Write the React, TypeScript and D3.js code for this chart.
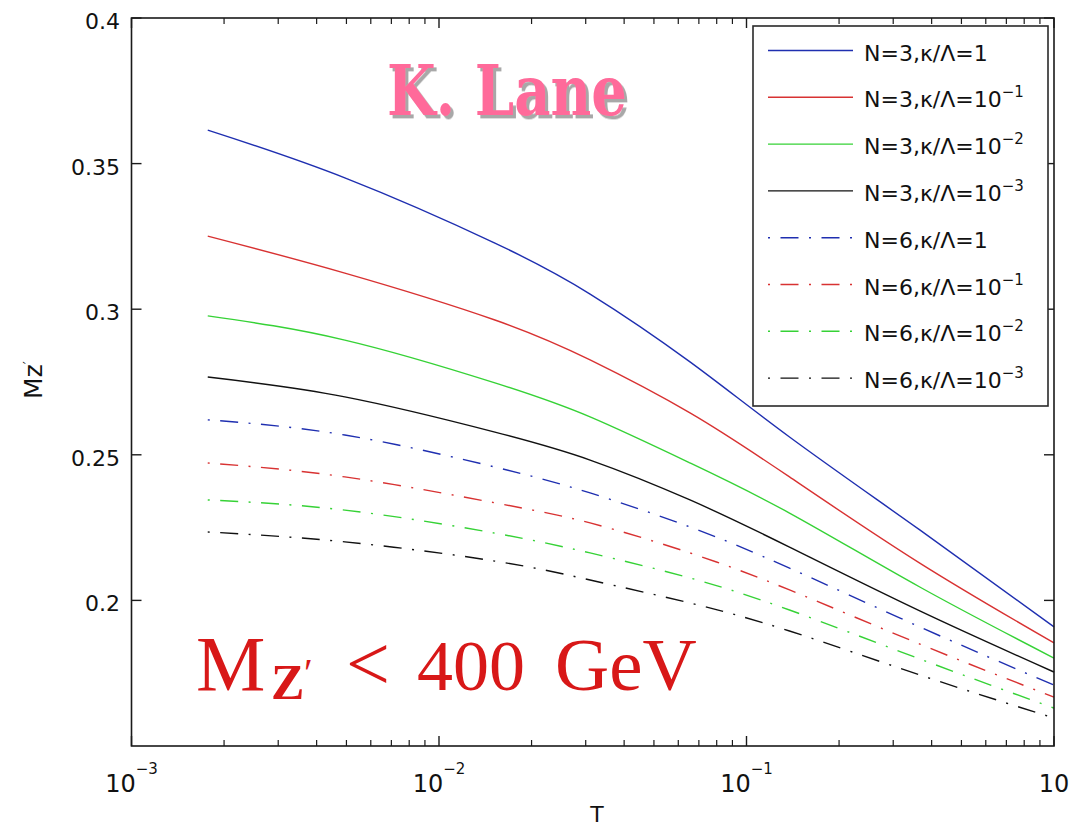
import React from 'react';
import * as d3 from 'd3';

// Technicolor parameter T (log axis) at which the curves are sampled
const T_VALUES = [0.00177, 0.00494, 0.0152, 0.031, 0.0655, 0.138, 0.366, 1];

// Mz' values, N = 3, kappa/Lambda = 1, 1e-1, 1e-2, 1e-3
const N3_K0 = [0.3615, 0.3451, 0.3227, 0.3052, 0.2819, 0.2561, 0.2242, 0.1909];
const N3_K1 = [0.3251, 0.3124, 0.2963, 0.2826, 0.2644, 0.2424, 0.2128, 0.1854];
const N3_K2 = [0.2977, 0.2894, 0.2747, 0.263, 0.2472, 0.23, 0.2046, 0.1802];
const N3_K3 = [0.2767, 0.2699, 0.2578, 0.2482, 0.2345, 0.2183, 0.1964, 0.1754];
// Mz' values, N = 6
const N6_K0 = [0.262, 0.2568, 0.2458, 0.2369, 0.2252, 0.2111, 0.1909, 0.1709];
const N6_K1 = [0.2472, 0.2424, 0.2335, 0.2266, 0.2163, 0.2036, 0.185, 0.1668];
const N6_K2 = [0.2345, 0.231, 0.2231, 0.2163, 0.2077, 0.1967, 0.1799, 0.163];
const N6_K3 = [0.2235, 0.2201, 0.2135, 0.207, 0.1991, 0.1895, 0.1744, 0.1596];

const SERIES_VALUES = [N3_K0, N3_K1, N3_K2, N3_K3, N6_K0, N6_K1, N6_K2, N6_K3];
const SERIES_N = [3, 3, 3, 3, 6, 6, 6, 6];
const SERIES_EXP = ['', '−1', '−2', '−3', '', '−1', '−2', '−3'];
const SERIES_COLORS = ['#1f2fb0', '#d83232', '#36d236', '#111111', '#1f2fb0', '#d83232', '#36d236', '#111111'];
const SERIES_DASHED = [false, false, false, false, true, true, true, true];

const Y_TICKS = [0.2, 0.25, 0.3, 0.35, 0.4];
const Y_TICK_LABELS = ['0.2', '0.25', '0.3', '0.35', '0.4'];
const X_TICKS = [1e-3, 1e-2, 1e-1, 1];
const X_TICK_EXPS = ['−3', '−2', '−1', ''];

const W = 1072;
const H = 828;
const SANS = 'DejaVu Sans, sans-serif';
const DASH_DOT = '2,10.5,18,10.5';

export default function App() {
  const left = 131.5;
  const right = 1054;
  const top = 18;
  const bottom = 746;

  const x = d3.scaleLog().domain([1e-3, 1]).range([left, right]);
  const y = d3.scaleLinear().domain([0.15, 0.4]).range([bottom, top]);

  const line = d3
    .line<[number, number]>()
    .x((d) => x(d[0]))
    .y((d) => y(d[1]))
    .curve(d3.curveNatural);

  const minorTicks: number[] = [];
  for (let e = -3; e < 0; e++) {
    for (let m = 2; m <= 9; m++) minorTicks.push(m * Math.pow(10, e));
  }

  // legend layout
  const lgX0 = 753;
  const lgY0 = 26;
  const lgX1 = 1048;
  const lgY1 = 406;
  const rowY = (i: number) => 50.5 + i * 46.8;

  return (
    <div style={{ position: 'absolute', left: 0, top: 0 }}>
      <svg width={W} height={H} viewBox={`0 0 ${W} ${H}`} style={{ display: 'block', background: '#fff' }}>
        <defs>
          <filter id="stampShadow" x="-10%" y="-20%" width="130%" height="150%">
            <feDropShadow dx={3} dy={3} stdDeviation={0.6} floodColor="#a8a8a8" floodOpacity={1} />
          </filter>
        </defs>
        <rect x={0} y={0} width={W} height={H} fill="#fff" />

        {/* curves */}
        {SERIES_VALUES.map((vals, i) => (
          <path
            key={`s${i}`}
            d={line(T_VALUES.map((t, j) => [t, vals[j]] as [number, number])) || ''}
            fill="none"
            stroke={SERIES_COLORS[i]}
            strokeWidth={1.4}
            strokeDasharray={SERIES_DASHED[i] ? DASH_DOT : undefined}
          />
        ))}

        {/* axes box */}
        <rect x={left} y={top} width={right - left} height={bottom - top} fill="none" stroke="#1a1a1a" strokeWidth={1.6} />

        {/* y ticks, left and right, pointing inward */}
        {Y_TICKS.map((v, i) => (
          <g key={`yt${i}`}>
            <line x1={left} x2={left + 10} y1={y(v)} y2={y(v)} stroke="#1a1a1a" strokeWidth={1.4} />
            <line x1={right} x2={right - 10} y1={y(v)} y2={y(v)} stroke="#1a1a1a" strokeWidth={1.4} />
            <text x={120} y={y(v) + 11} textAnchor="end" fontFamily={SANS} fontSize={22} fill="#111">
              {Y_TICK_LABELS[i]}
            </text>
          </g>
        ))}

        {/* x major ticks */}
        {X_TICKS.map((t, i) => (
          <g key={`xt${i}`}>
            <line x1={x(t)} x2={x(t)} y1={bottom} y2={bottom - 10} stroke="#1a1a1a" strokeWidth={1.4} />
            <line x1={x(t)} x2={x(t)} y1={top} y2={top + 10} stroke="#1a1a1a" strokeWidth={1.4} />
            <text x={x(t)} y={792} textAnchor="middle" fontFamily={SANS} fontSize={24} fill="#111">
              10
              {X_TICK_EXPS[i] ? (
                <tspan dy={-18} fontSize={15}>
                  {X_TICK_EXPS[i]}
                </tspan>
              ) : null}
            </text>
          </g>
        ))}

        {/* x minor ticks */}
        {minorTicks.map((t, i) => (
          <g key={`xm${i}`}>
            <line x1={x(t)} x2={x(t)} y1={bottom} y2={bottom - 6} stroke="#1a1a1a" strokeWidth={1.2} />
            <line x1={x(t)} x2={x(t)} y1={top} y2={top + 6} stroke="#1a1a1a" strokeWidth={1.2} />
          </g>
        ))}

        {/* axis titles */}
        <text x={597} y={822} textAnchor="middle" fontFamily={SANS} fontSize={22} fill="#111">
          T
        </text>
        <text transform="translate(42,380) rotate(-90)" textAnchor="middle" fontFamily={SANS} fontSize={25} fill="#111">
          Mz
          <tspan dy={-9} fontSize={14}>
            ′
          </tspan>
        </text>

        {/* legend */}
        <rect x={lgX0} y={lgY0} width={lgX1 - lgX0} height={lgY1 - lgY0} fill="#fff" stroke="#2a2a2a" strokeWidth={1.6} />
        {SERIES_VALUES.map((_, i) => (
          <g key={`lg${i}`}>
            <line
              x1={768}
              x2={853}
              y1={rowY(i)}
              y2={rowY(i)}
              stroke={SERIES_COLORS[i]}
              strokeWidth={1.4}
              strokeDasharray={SERIES_DASHED[i] ? DASH_DOT : undefined}
            />
            <text x={864} y={rowY(i) + 10} fontFamily={SANS} fontSize={22} fill="#111">
              {`N=${SERIES_N[i]},κ/Λ=${SERIES_EXP[i] ? '10' : '1'}`}
              {SERIES_EXP[i] ? (
                <tspan dy={-10} fontSize={15}>
                  {SERIES_EXP[i]}
                </tspan>
              ) : null}
            </text>
          </g>
        ))}

        {/* author stamp with drop shadow */}
        <g transform="translate(387,115) scale(1,1.13)">
          <text
            x={0}
            y={0}
            fontFamily="DejaVu Serif, serif"
            fontWeight="bold"
            fontSize={62}
            textLength={240}
            lengthAdjust="spacingAndGlyphs"
            fill="#ff6a9a"
            filter="url(#stampShadow)"
          >
            K. Lane
          </text>
        </g>

        {/* mass bound annotation */}
        <text fontFamily="Liberation Serif, Times New Roman, serif" fill="#d81818">
          <tspan x={196} y={690} fontSize={78}>M</tspan>
          <tspan x={271} y={699} fontSize={50} fontWeight="bold">Z</tspan>
          <tspan x={304} y={686} fontSize={40}>′</tspan>
          <tspan x={346} y={690} fontSize={78}>&lt;</tspan>
          <tspan x={417} y={690} fontSize={72}>400</tspan>
          <tspan x={555} y={690} fontSize={75}>GeV</tspan>
        </text>
      </svg>
    </div>
  );
}
